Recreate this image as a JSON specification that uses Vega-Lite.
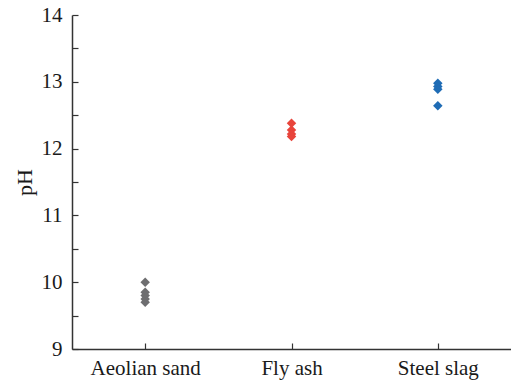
{
  "$schema": "https://vega.github.io/schema/vega-lite/v6.json",
  "autosize": {"type": "none"},
  "width": 439,
  "height": 334,
  "padding": {"left": 72, "top": 15, "right": 0, "bottom": 34},
  "background": "white",
  "config": {
    "view": {"stroke": null},
    "font": "Liberation Serif"
  },
  "data": {
    "values": [
      {"material": "Aeolian sand", "pH": 10.0},
      {"material": "Aeolian sand", "pH": 9.85},
      {"material": "Aeolian sand", "pH": 9.8},
      {"material": "Aeolian sand", "pH": 9.75},
      {"material": "Aeolian sand", "pH": 9.7},
      {"material": "Fly ash", "pH": 12.38},
      {"material": "Fly ash", "pH": 12.28},
      {"material": "Fly ash", "pH": 12.22},
      {"material": "Fly ash", "pH": 12.18},
      {"material": "Steel slag", "pH": 12.98},
      {"material": "Steel slag", "pH": 12.93},
      {"material": "Steel slag", "pH": 12.89},
      {"material": "Steel slag", "pH": 12.64}
    ]
  },
  "mark": {"type": "point", "shape": "diamond", "filled": true, "size": 90, "opacity": 1},
  "encoding": {
    "x": {
      "field": "material",
      "type": "nominal",
      "sort": null,
      "scale": {"type": "point", "padding": 0.5},
      "axis": {
        "title": null,
        "labelAngle": 0,
        "labelFontSize": 21,
        "labelColor": "#1a1a1a",
        "labelPadding": 14,
        "tickSize": -6,
        "tickWidth": 1.2,
        "tickColor": "#333333",
        "domainColor": "#333333",
        "domainWidth": 1.5,
        "grid": false
      }
    },
    "y": {
      "field": "pH",
      "type": "quantitative",
      "scale": {"domain": [9, 14], "nice": false, "zero": false},
      "axis": {
        "title": "pH",
        "titleFontSize": 22,
        "titleFontWeight": "normal",
        "titleColor": "#1a1a1a",
        "titlePadding": 5,
        "values": [9, 9.5, 10, 10.5, 11, 11.5, 12, 12.5, 13, 13.5, 14],
        "labelExpr": "datum.value % 1 === 0 ? datum.value : ''",
        "labelFontSize": 21,
        "labelColor": "#1a1a1a",
        "labelPadding": 16,
        "tickSize": -6,
        "tickWidth": 1.2,
        "tickColor": "#333333",
        "domainColor": "#333333",
        "domainWidth": 1.5,
        "grid": false
      }
    },
    "color": {
      "field": "material",
      "type": "nominal",
      "legend": null,
      "scale": {
        "domain": ["Aeolian sand", "Fly ash", "Steel slag"],
        "range": ["#6e6e70", "#e8443b", "#1f6cb5"]
      }
    }
  }
}
